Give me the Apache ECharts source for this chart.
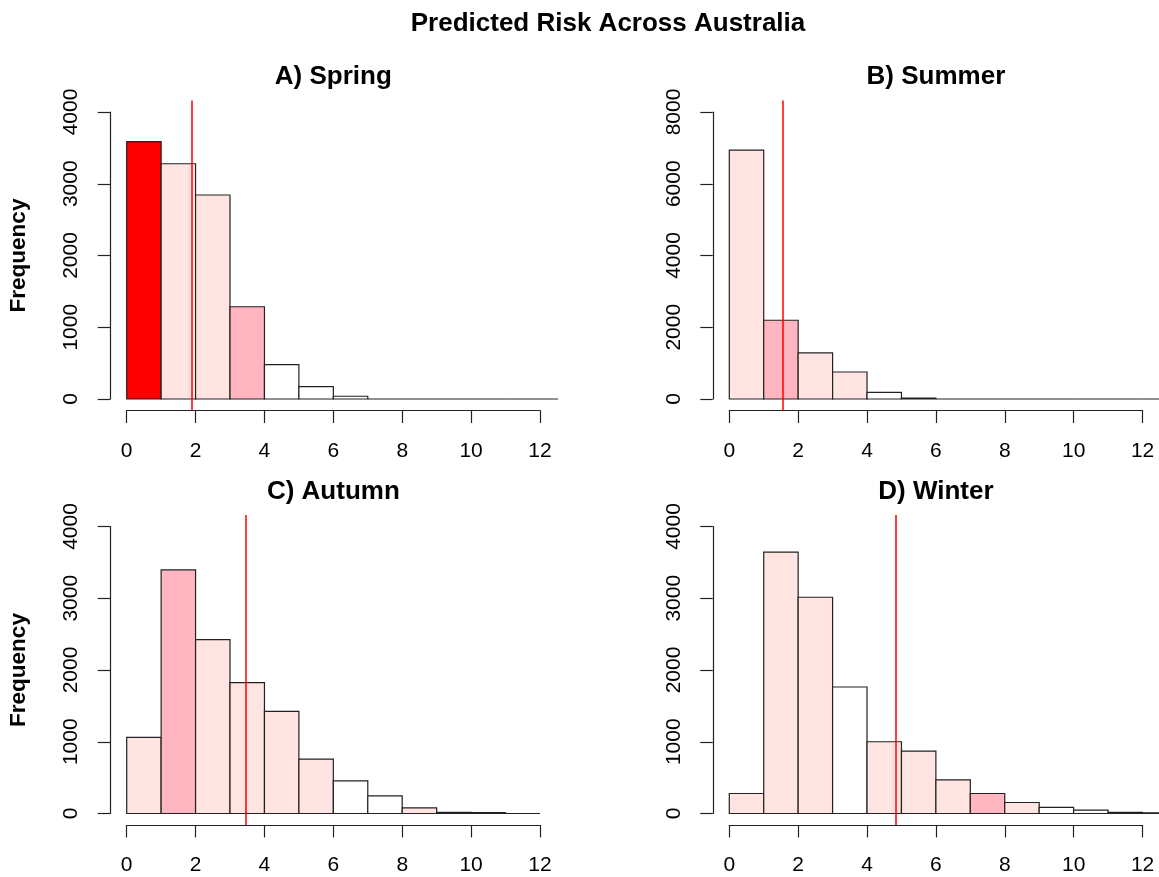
<!DOCTYPE html>
<html><head><meta charset="utf-8">
<script src="https://cdn.jsdelivr.net/npm/echarts@6/dist/echarts.min.js"></script>
<style>html,body{margin:0;padding:0;background:#fff}#chart{width:1159px;height:877px}</style>
</head><body><div id="chart"></div>
<script>
// ---------------- data ----------------
const mainTitle = 'Predicted Risk Across Australia';
const panelTitles = ['A) Spring', 'B) Summer', 'C) Autumn', 'D) Winter'];
const yAxisTitle = 'Frequency';
const binBreaks = [0, 1, 2, 3, 4, 5, 6, 7, 8, 9, 10, 11, 12, 13];
const springCounts = [3586, 3279, 2843, 1286, 478, 172, 38, 0, 0, 0, 0, 0, 0];
const summerCounts = [6940, 2195, 1284, 753, 186, 28, 0, 0, 0, 0, 0, 0, 0];
const autumnCounts = [1060, 3395, 2423, 1823, 1423, 758, 456, 247, 78, 15, 12, 0];
const winterCounts = [279, 3642, 3014, 1763, 1000, 870, 470, 279, 153, 84, 47, 15, 8];
// fill class per bin: 0 = none, 1 = low, 2 = medium, 3 = high
const springClass = [3, 1, 1, 2, 0, 0, 0, 0, 0, 0, 0, 0, 0];
const summerClass = [1, 2, 1, 1, 0, 0, 0, 0, 0, 0, 0, 0, 0];
const autumnClass = [1, 2, 1, 1, 1, 1, 0, 0, 1, 0, 0, 0];
const winterClass = [1, 1, 1, 0, 1, 1, 1, 2, 1, 0, 0, 0, 0];
const meanRisk = [1.88, 1.54, 3.46, 4.84];
const xAxisMax = 12, xAxisStep = 2;
const yAxisMax = [4000, 8000, 4000, 4000];
const yAxisStep = [1000, 2000, 1000, 1000];

// ---------------- styles / layout ----------------
const FONT = "'Liberation Sans', Arial, sans-serif";
const palette = ['#FFFFFF', '#FFE4E1', '#FFB6C1', '#FF0000'];
const INK = '#222';
const X0 = 126.7, XS = 34.44, Y0 = 399, YH = 287, DX = 602.6, DY = 414.5;
const XPAD = 0.04 * xAxisMax;

const counts = [springCounts, summerCounts, autumnCounts, winterCounts];
const classes = [springClass, summerClass, autumnClass, winterClass];

const grid = [], xAxis = [], yAxis = [], series = [];
const title = [{
  text: mainTitle, left: 608, top: 10.7, padding: 0, textAlign: 'center',
  textStyle: { fontFamily: FONT, fontSize: 26, fontWeight: 'bold', color: '#000' }
}];
const graphic = [];
const plain = v => String(v);

counts.forEach((cnt, i) => {
  const col = i % 2, row = Math.floor(i / 2);
  const ox = X0 + col * DX;
  const oy = Y0 + row * DY;
  const top = oy - YH;
  const ymax = yAxisMax[i];
  const ypad = 0.04 * ymax;
  const ys = YH / ymax;

  // plotting region (data)
  grid.push({ left: ox - XPAD * XS, top: top - ypad * ys, width: (xAxisMax + 2 * XPAD) * XS, height: YH + 2 * ypad * ys });
  xAxis.push({ gridIndex: 2 * i, type: 'value', min: -XPAD, max: xAxisMax + XPAD, show: false });
  yAxis.push({ gridIndex: 2 * i, type: 'value', min: -ypad, max: ymax + ypad, show: false });

  // axis region (R-style detached axes)
  grid.push({ left: ox, top: top, width: xAxisMax * XS, height: YH });
  xAxis.push({
    gridIndex: 2 * i + 1, type: 'value', min: 0, max: xAxisMax, interval: xAxisStep,
    position: 'bottom', offset: ypad * ys,
    axisLine: { show: true, onZero: false, lineStyle: { color: INK, width: 1.2 } },
    axisTick: { show: true, length: 12.5, lineStyle: { color: INK, width: 1.2 } },
    axisLabel: { fontFamily: FONT, fontSize: 21, color: '#000', margin: 30, formatter: plain },
    splitLine: { show: false }
  });
  yAxis.push({
    gridIndex: 2 * i + 1, type: 'value', min: 0, max: ymax, interval: yAxisStep[i],
    position: 'left', offset: XPAD * XS,
    axisLine: { show: true, onZero: false, lineStyle: { color: INK, width: 1.2 } },
    axisTick: { show: true, length: 12.5, lineStyle: { color: INK, width: 1.2 } },
    axisLabel: { fontFamily: FONT, fontSize: 21, color: '#000', margin: 28, rotate: 90, formatter: plain },
    splitLine: { show: false }
  });

  const data = cnt.map((c, k) => [binBreaks[k], binBreaks[k + 1], c, classes[i][k]]);
  series.push({
    type: 'custom', xAxisIndex: 2 * i, yAxisIndex: 2 * i, clip: true,
    encode: { x: [0, 1], y: 2 },
    data: data,
    renderItem: function (params, api) {
      const p0 = api.coord([api.value(0), 0]);
      const p1 = api.coord([api.value(1), api.value(2)]);
      return {
        type: 'rect',
        shape: { x: p0[0], y: p1[1], width: p1[0] - p0[0], height: p0[1] - p1[1] },
        style: { fill: palette[api.value(3)], stroke: INK, lineWidth: 1.2 }
      };
    },
    markLine: {
      silent: true, symbol: 'none', label: { show: false },
      lineStyle: { color: '#FF0000', width: 1.5, type: 'solid' },
      data: [{ xAxis: meanRisk[i] }]
    }
  });

  title.push({
    text: panelTitles[i], left: ox + (xAxisMax / 2) * XS, top: 64 + row * DY, padding: 0, textAlign: 'center',
    textStyle: { fontFamily: FONT, fontSize: 26, fontWeight: 'bold', color: '#000' }
  });

  if (col === 0) {
    graphic.push({
      type: 'text', x: 18.4, y: top + YH / 2, rotation: Math.PI / 2,
      style: { text: yAxisTitle, font: "bold 22.5px 'Liberation Sans', Arial, sans-serif", fill: '#000', align: 'center', verticalAlign: 'middle' }
    });
  }
});

const chart = echarts.init(document.getElementById('chart'), null, { renderer: 'canvas' });
chart.setOption({
  animation: false,
  backgroundColor: '#fff',
  title: title,
  grid: grid,
  xAxis: xAxis,
  yAxis: yAxis,
  series: series,
  graphic: graphic
});
</script>
</body></html>
